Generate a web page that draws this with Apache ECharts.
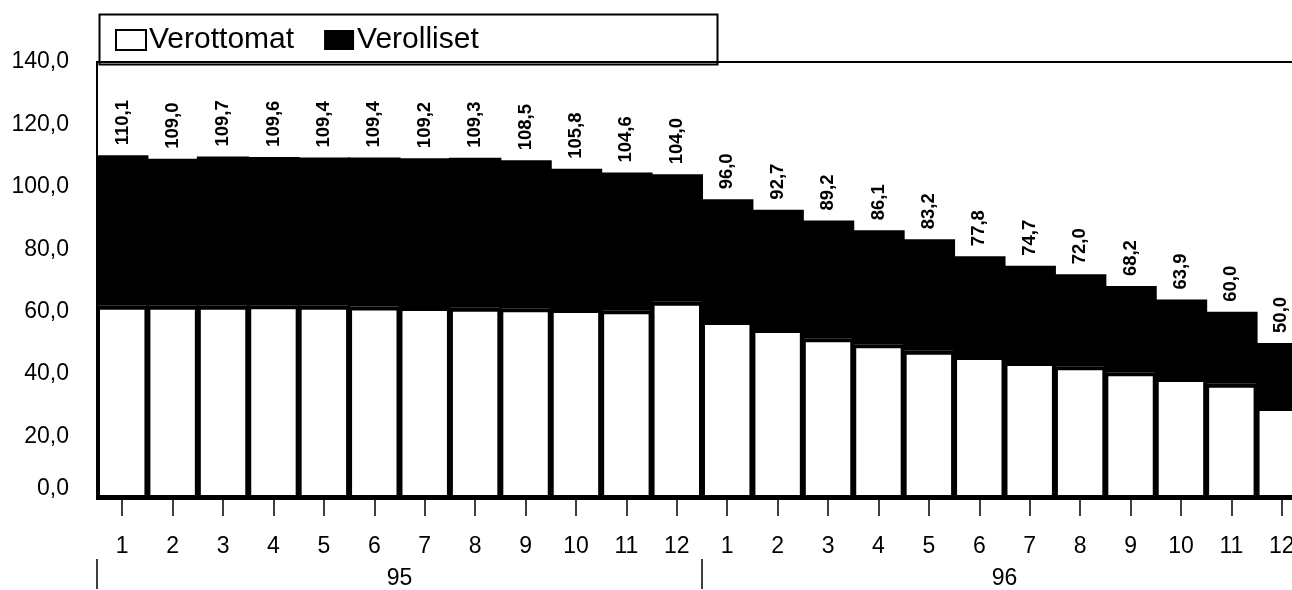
<!DOCTYPE html>
<html>
<head>
<meta charset="utf-8">
<script src="https://cdn.jsdelivr.net/npm/echarts@6/dist/echarts.min.js"></script>
<style>
html,body{margin:0;padding:0;background:#fff;overflow:hidden;}
#chart{width:1307px;height:590px;}
</style>
</head>
<body>
<div id="chart"></div>
<script>
const months = ['1','2','3','4','5','6','7','8','9','10','11','12','1','2','3','4','5','6','7','8','9','10','11','12'];
const years = ['95','96'];
const totals = [110.1,109.0,109.7,109.6,109.4,109.4,109.2,109.3,108.5,105.8,104.6,104.0,
                96.0,92.7,89.2,86.1,83.2,77.8,74.7,72.0,68.2,63.9,60.0,50.0];
const verottomat = [61.9,61.9,61.9,62.1,61.9,61.7,61.5,61.3,61.1,60.9,60.5,63.2,
                    57.0,54.5,51.5,49.6,47.5,45.8,43.9,42.5,40.6,38.8,36.9,29.5];
const verolliset = [48.2,47.1,47.8,47.5,47.5,47.7,47.7,48.0,47.4,44.9,44.1,40.8,
                    39.0,38.2,37.7,36.5,35.7,32.0,30.8,29.5,27.6,25.1,23.1,20.5];

const FONT = '"Liberation Sans", Arial, Helvetica, sans-serif';
const fmt = v => v.toFixed(1).replace('.', ',');

const chart = echarts.init(document.getElementById('chart'), null, {renderer:'canvas'});
chart.setOption({
  backgroundColor: '#fff',
  animation: false,
  textStyle: {fontFamily: FONT, color: '#000'},
  grid: {left: 97, top: 62, right: 0, height: 440, show: true, borderColor: '#000', borderWidth: 2, backgroundColor: 'transparent'},
  graphic: [{
    type: 'rect', left: 97, top: 12, z: 10,
    shape: {width: 618, height: 50},
    style: {fill: 'none', stroke: '#000', lineWidth: 2}
  }],
  legend: {
    left: 110, top: 20, itemWidth: 30, itemHeight: 20, itemGap: 30,
    icon: 'rect',
    textStyle: {fontSize: 30, fontFamily: FONT, color: '#000', padding: [0,0,0,-2]},
    data: [
      {name: 'Verottomat', itemStyle: {color: '#fff', borderColor: '#000', borderWidth: 2}},
      {name: 'Verolliset', itemStyle: {color: '#000', borderColor: '#000', borderWidth: 0}}
    ]
  },
  xAxis: [{
    type: 'category', data: months, position: 'bottom',
    axisLine: {show: true, lineStyle: {color: '#000', width: 2}},
    axisTick: {show: true, alignWithLabel: true, length: 17, lineStyle: {color: '#000', width: 1.5}},
    axisLabel: {fontSize: 23, color: '#000', fontFamily: FONT, margin: 36, interval: 0}
  }, {
    type: 'category', data: years, position: 'bottom', offset: 60,
    axisLine: {show: false},
    axisTick: {show: true, length: 30, lineStyle: {color: '#000', width: 1.5}},
    axisLabel: {fontSize: 23, color: '#000', fontFamily: FONT, margin: 8, verticalAlign: 'top'}
  }],
  yAxis: {
    type: 'value', min: 0, max: 140, interval: 20,
    axisLine: {show: true, lineStyle: {color: '#000', width: 2}},
    axisTick: {show: false},
    splitLine: {show: false},
    axisLabel: {
      fontSize: 23, color: '#000', fontFamily: FONT, margin: 28,
      formatter: v => v === 0 ? '{z|' + fmt(v) + '}' : fmt(v),
      rich: {z: {fontSize: 23, fontFamily: FONT, color: '#000', padding: [0, 0, 20, 0]}}
    }
  },
  series: [{
    name: 'Verottomat', type: 'bar', stack: 'total', data: verottomat,
    barCategoryGap: '-4%',
    itemStyle: {color: '#fff', borderColor: '#000', borderWidth: 4}
  }, {
    name: 'Verolliset', type: 'bar', stack: 'total', data: verolliset,
    barCategoryGap: '-4%',
    itemStyle: {color: '#000', borderColor: '#000', borderWidth: 0},
    label: {
      show: true, position: 'top', rotate: 90, distance: 10,
      align: 'left', verticalAlign: 'middle',
      fontSize: 18.5, fontWeight: 'bold', fontFamily: FONT, color: '#000',
      formatter: p => fmt(totals[p.dataIndex])
    }
  }]
});
</script>
</body>
</html>
